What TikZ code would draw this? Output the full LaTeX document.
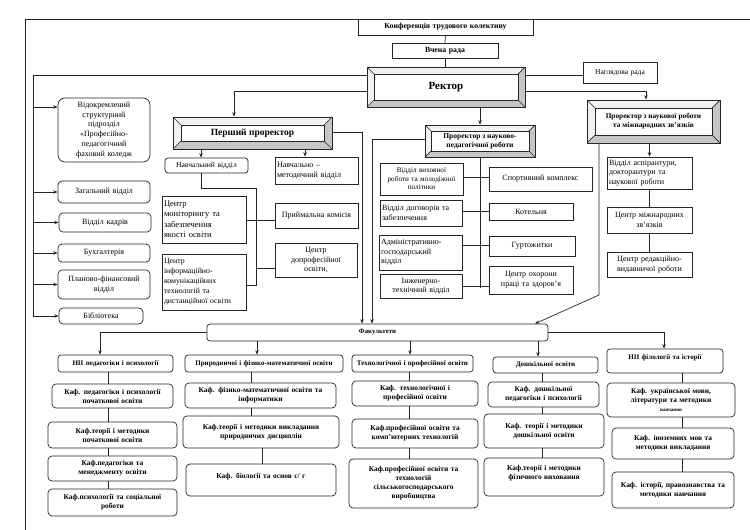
\documentclass[tikz,border=0pt]{standalone}
\usepackage{fontspec}
\setmainfont{Liberation Serif}
\usetikzlibrary{arrows.meta}
\tikzset{
 ln/.style={line width=0.7pt, draw=black!85},
 arr/.style={ln, -{Stealth[length=4.5pt,width=3.5pt]}},
 box/.style={ln, draw, fill=white, inner sep=2pt, align=center, font=\fontsize{8}{9.6}\selectfont},
 rbox/.style={box, rounded corners=4pt},
 hb/.style={box, font=\bfseries\fontsize{7.8}{9}\selectfont},
 fh/.style={box, rounded corners=3pt, font=\bfseries\fontsize{7}{8.4}\selectfont},
 dp/.style={box, rounded corners=4pt, font=\bfseries\fontsize{7.4}{9}\selectfont},
 sm/.style={font=\fontsize{7.2}{8.6}\selectfont},
}
\newcommand\bx[7][]{%
\pgfmathsetmacro\bw{#5-#3}\pgfmathsetmacro\bh{#6-#4}\pgfmathsetmacro\btw{#5-#3-4}%
\node[box,#1,minimum width=\bw pt,minimum height=\bh pt,text width=\btw pt] (#2) at ({(#3+#5)/2},{(#4+#6)/2}) {#7};}
\newcommand\bevel[8]{%
\pgfmathsetmacro\ba{#2+#6}\pgfmathsetmacro\bb{#3+#6}%
\pgfmathsetmacro\bc{#4-#6}\pgfmathsetmacro\bd{#5-#6}%
\fill[gray!10] (#2,#3) -- (#4,#3) -- (\bc,\bb) -- (\ba,\bb) -- (\ba,\bd) -- (#2,#5) -- cycle;
\fill[gray!45] (#4,#5) -- (#4,#3) -- (\bc,\bb) -- (\bc,\bd) -- (\ba,\bd) -- (#2,#5) -- cycle;
\draw[ln] (#2,#3) -- (\ba,\bb) (#4,#3) -- (\bc,\bb) (#4,#5) -- (\bc,\bd) (#2,#5) -- (\ba,\bd);
\pgfmathsetmacro\bw{#4-#2}\pgfmathsetmacro\bh{#5-#3}%
\node[ln,draw,inner sep=0pt,minimum width=\bw pt,minimum height=\bh pt] (#1) at ({(#2+#4)/2},{(#3+#5)/2}) {};
\pgfmathsetmacro\biw{\bc-\ba}\pgfmathsetmacro\bih{\bd-\bb}%
\node[ln,draw,fill=white,inner sep=0pt,minimum width=\biw pt,minimum height=\bih pt,align=center,font=#7] (#1in) at (#1.center) {#8};}
\begin{document}
\begin{tikzpicture}[x=1pt,y=-1pt]
\useasboundingbox (0,0) rectangle (750,530);
\draw[ln] (25,530) -- (25,19) -- (750,19);
% top
\bx[hb]{conf}{358}{19}{533}{35}{Конференція трудового колективу}
\bx[hb]{vr}{392}{43}{498}{58}{Вчена рада}
\bevel{rect}{367}{67}{525}{107}{7}{\bfseries\fontsize{11}{13}\selectfont}{Ректор}
\bx[font=\fontsize{7.5}{9}\selectfont]{nag}{583}{62}{657}{83}{Наглядова рада}
\bevel{pp}{173}{117}{332}{149}{8}{\bfseries\fontsize{9.5}{11}\selectfont}{Перший проректор}
\bevel{pnp}{425}{125}{535}{157}{6}{\bfseries\fontsize{7.5}{9}\selectfont}{Проректор з науково-\\педагогічної роботи}
\bevel{pnr}{587}{100}{720}{143}{8}{\bfseries\fontsize{7.3}{9}\selectfont}{Проректор з наукової роботи\\та міжнародних зв'язків}
% left column
\bx[rbox,rounded corners=7pt,font=\fontsize{8}{9.8}\selectfont]{kol}{58}{98}{150}{162}{Відокремлений\\структурний\\підрозділ\\«Професійно-\\педагогічний\\фаховий коледж}
\bx[rbox]{zag}{58}{181}{150}{203}{Загальний відділ}
\bx[rbox]{kad}{59}{213}{151}{232}{Відділ кадрів}
\bx[rbox]{buh}{58}{244}{150}{262}{Бухгалтерія}
\bx[rbox]{plan}{58}{270}{150}{299}{Планово-фінансовий\\відділ}
\bx[rbox]{bib}{59}{308}{143}{324}{Бібліотека}
% first vice-rector units
\bx[rbox,rounded corners=3pt,font=\fontsize{7.6}{9}\selectfont]{nv}{165}{158}{248}{173}{Навчальний відділ}
\bx[align=left]{nmv}{275}{157}{358}{184}{Навчально –\\методичний відділ}
\bx[align=left,font=\fontsize{8.5}{10.5}\selectfont]{cm}{162}{196}{246}{243}{Центр\\моніторингу та\\забезпечення\\якості освіти}
\bx[align=left,font=\fontsize{7.8}{10}\selectfont]{ci}{162}{254}{246}{310}{Центр\\інформаційно-\\комунікаційних\\технологій та\\дистанційної освіти}
\bx{pk}{275}{203}{358}{228}{Приймальна комісія}
\bx{cd}{275}{243}{357}{277}{Центр\\допрофесійної\\освіти,}
% scientific-pedagogical vice-rector units
\bx[sm]{vv}{380}{163}{463}{195}{Відділ виховної\\роботи та молодіжної\\політики}
\bx[align=left]{vd}{380}{200}{462}{226}{Відділ договорів та\\забезпечення}
\bx[align=left]{ag}{379}{235}{462}{270}{Адміністративно-\\господарський\\відділ}
\bx{it}{380}{274}{462}{298}{Інженерно-\\технічний відділ}
\bx{sk}{489}{167}{592}{191}{Спортивний комплекс}
\bx{kot}{489}{203}{573}{220}{Котельня}
\bx{gur}{489}{236}{575}{256}{Гуртожитки}
\bx{coh}{489}{266}{573}{294}{Центр охорони\\праці та здоров'я}
% science vice-rector units
\bx[align=left]{asp}{607}{157}{692}{189}{Відділ аспірантури,\\докторантури та\\наукової роботи}
\bx{cmz}{607}{207}{692}{233}{Центр міжнародних\\зв'язків}
\bx{crv}{607}{252}{692}{277}{Центр редакційно-\\видавничої роботи}
% faculties
\bx[fh,font=\bfseries\fontsize{6.8}{8}\selectfont]{fak}{207}{324}{548}{341}{Факультети}
\bx[fh]{f1}{58}{355}{173}{372}{НІІ педагогіки і психології}
\bx[fh]{f2}{185}{355}{343}{372}{Природничої і фізико-математичної освіти}
\bx[fh]{f3}{352}{355}{473}{372}{Технологічної і професійної освіти}
\bx[fh]{f4}{493}{357}{598}{373}{Дошкільної освіти}
\bx[fh]{f5}{607}{349}{723}{373}{НІІ філології та історії\\\mbox{}}
\bx[dp]{d11}{52}{384}{173}{408}{Каф. педагогіки  і психології\\початкової освіти}
\bx[dp]{d12}{48}{422}{177}{448}{Каф.теорії і методики\\початкової освіти}
\bx[dp]{d13}{48}{456}{177}{481}{Каф.педагогіки та\\менеджменту освіти}
\bx[dp]{d14}{48}{489}{177}{516}{Каф.психології та соціальної\\роботи}
\bx[dp]{d21}{185}{383}{336}{408}{Каф. фізико-математичної освіти та\\інформатики}
\bx[dp]{d22}{183}{416}{339}{448}{Каф.теорії і методики викладання\\природничих дисциплін}
\bx[dp]{d23}{186}{464}{336}{496}{Каф. біології  та основ с/ г\\\mbox{}}
\bx[dp]{d31}{352}{381}{478}{406}{Каф. технологічної і\\професійної  освіти}
\bx[dp]{d32}{352}{419}{478}{448}{Каф.професійної освіти та\\комп'ютерних технологій}
\bx[dp]{d33}{349}{459}{478}{508}{Каф.професійної освіти та\\технологій\\сільськогосподарського\\виробництва}
\bx[dp]{d41}{488}{382}{599}{407}{Каф. дошкільної\\педагогіки і психології}
\bx[dp]{d42}{484}{414}{604}{448}{Каф. теорії і методики\\дошкільної освіти}
\bx[dp]{d43}{484}{458}{604}{496}{Каф.теорії і методики\\фізичного виховання\\\mbox{}}
\bx[dp]{d51}{607}{383}{735}{417}{Каф. української мови,\\літератури та методики\\{\fontsize{5}{6}\selectfont навчання}}
\bx[dp]{d52}{612}{428}{734}{459}{Каф. іноземних мов та\\методики викладання}
\bx[dp]{d53}{612}{472}{734}{508}{Каф. історії, правознавства та\\методики навчання}
% connectors top
\draw[ln] (conf.south) -- (vr.north);
\draw[ln] (vr.south) -- (rect.north -| vr.south);
\coordinate (L1) at (33,75);
\coordinate (L2) at (33,316);
\draw[ln] (rect.west |- L1) -- (L1) -- (L2);
\draw[arr] (33,107) -- (kol.west |- 0,107);
\foreach \n in {zag,kad,buh,plan,bib} \draw[arr] (L1 |- \n.west) -- (\n.west);
\draw[arr] (rect.west |- 0,91) -| (pp.north -| 234,0);
\draw[ln] (rect.east |- 0,75) -- (nag.west |- 0,75);
\draw[arr] (rect.east |- 0,91) -| (pnr.north -| 646,0);
\draw[arr] (pnp.north |- rect.south) -- (pnp.north);
% first vice-rector
\draw[arr] (pp.south -| 201,0) -- (nv.north -| 201,0);
\draw[arr] (pp.south -| 305,0) -- (nmv.north -| 305,0);
\coordinate (B1) at (256,188);
\coordinate (B2) at (256,285);
\draw[ln] (nv.south -| 201,0) |- (B1) -- (B2) -- (ci.east |- B2);
\draw[ln] (cm.east |- 0,220) -- (pk.west |- 0,220);
\draw[ln] (B1 |- 0,268) -- (cd.west |- 0,268);
\draw[arr] (pp.east |- 0,132) -| (fak.north -| 362,0);
% scientific-pedagogical
\draw[arr] (pnp.west |- 0,139) -| (fak.north -| 372,0);
\coordinate (P2) at (480,288);
\draw[ln] (pnp.south) -- (P2);
\foreach \l/\r/\y in {vv/sk/177, vd/kot/211, ag/gur/245, it/coh/286}
  \draw[ln] (\l.east |- 0,\y) -- (\r.west |- 0,\y);
% science vice-rector
\draw[arr] (asp.north |- pnr.south) -- (asp.north);
\draw[ln] (asp.south) -- (cmz.north);
\draw[ln] (cmz.south) -- (crv.north);
\coordinate (S1) at (599,295);
\draw[arr] (pnr.south -| S1) -- (S1) -- (fak.north -| 535,0);
% faculties
\draw[arr] (fak.west) -| (f1.north -| 100,0);
\draw[arr] (fak.south -| 257,0) -- (f2.north -| 257,0);
\draw[arr] (fak.south -| 410,0) -- (f3.north -| 410,0);
\draw[arr] (fak.south -| 538,0) -- (f4.north -| 538,0);
\draw[arr] (fak.east) -| (f5.north -| 664,0);
\foreach \a/\b/\x in {f1/d11/108, d11/d12/108, d12/d13/108, d13/d14/108, f2/d21/251, d21/d22/251, d22/d23/262, f3/d31/409, d31/d32/409, d32/d33/409, f4/d41/542, d41/d42/542, d42/d43/542, f5/d51/682, d51/d52/682, d52/d53/682}
  \draw[ln] (\a.south -| \x,0) -- (\b.north -| \x,0);
\end{tikzpicture}
\end{document}
